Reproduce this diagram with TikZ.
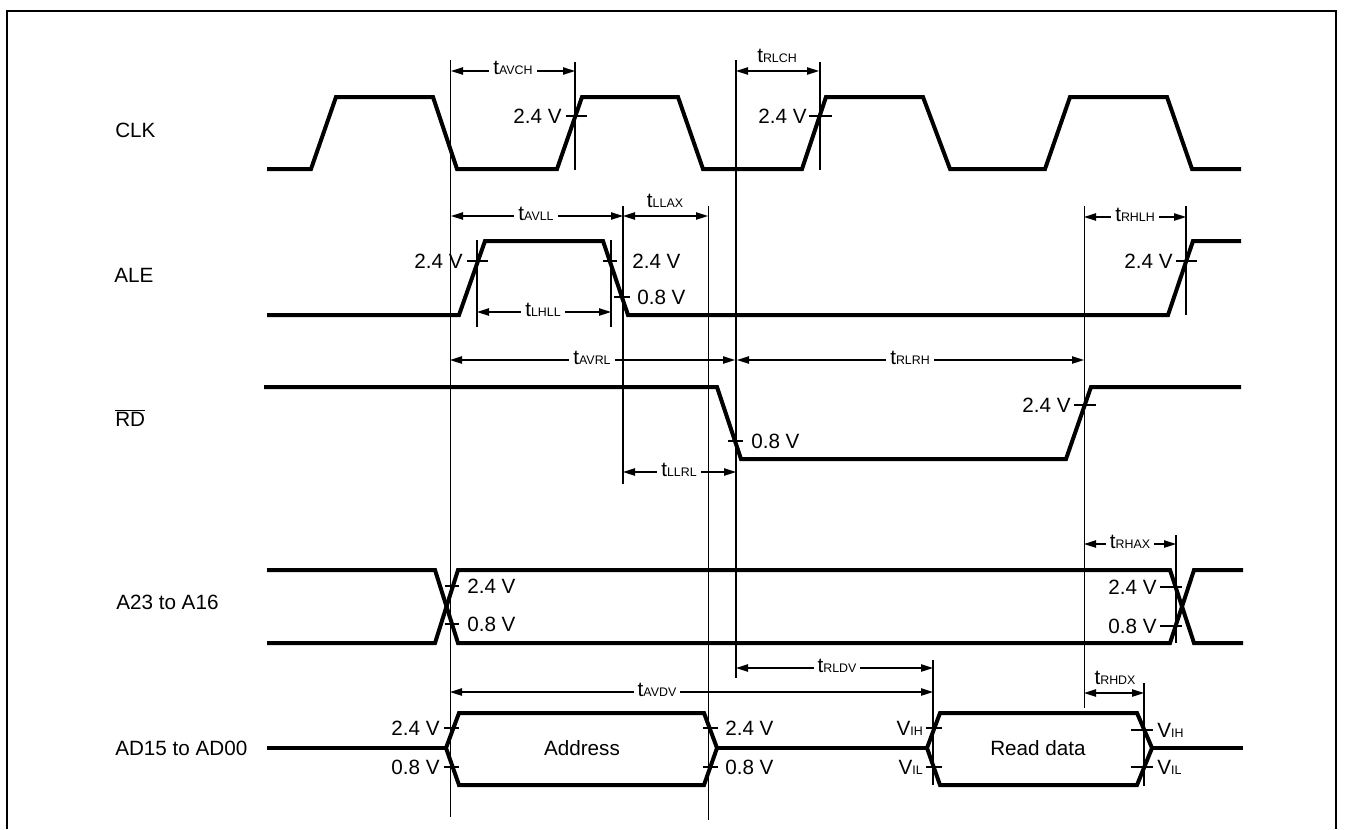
\documentclass[tikz,border=0pt]{standalone}
\usepackage{fontspec}
\setmainfont{Liberation Sans}
\usetikzlibrary{arrows.meta}
\newcommand\tsub[1]{t{\fontsize{9.3}{10}\selectfont #1}}
\newcommand\vsub[1]{V{\fontsize{9.3}{10}\selectfont #1}}
\begin{document}
\begin{tikzpicture}[x=0.75pt,y=-0.75pt,
  sig/.style={line width=3pt, line join=miter},
  thinref/.style={line width=0.6pt},
  medref/.style={line width=1.1pt},
  frameline/.style={line width=1.5pt},
  dimarrow/.style={line width=1.1pt, {Triangle[length=9pt,width=5.5pt]}-{Triangle[length=9pt,width=5.5pt]}},
  tickmark/.style={line width=1.2pt},
  lbl/.style={inner sep=0pt, font=\fontsize{15.5}{18}\selectfont},
  dlbl/.style={fill=white, inner xsep=3pt, inner ysep=1pt, font=\fontsize{15.5}{18}\selectfont},
  albl/.style={inner sep=0pt, font=\fontsize{15.5}{18}\selectfont},
]
\useasboundingbox (0,0) rectangle (1345,829);
% frame
\draw[frameline] (7,829) -- (7,11) -- (1336,11) -- (1336,829);

% signal names
\node[lbl, anchor=west] (nclk) at (115,130) {CLK};
\node[lbl, anchor=west] (nale) at (114,275) {ALE};
\node[lbl, anchor=west] (nrd) at (115,418) {$\overline{\hbox{RD}}$};
\node[lbl, anchor=west] (na23) at (116,602) {A23 to A16};
\node[lbl, anchor=west] (nad) at (115,748) {AD15 to AD00};

% reference lines
\draw[thinref] (450,60) -- (450,817);
\draw[thinref] (708,206) -- (708,820);
\draw[thinref] (1084,206) -- (1084,708);
\draw[medref] (575,62) -- (575,170);
\draw[medref] (736,60) -- (736,678);
\draw[medref] (820,62) -- (820,170);
\draw[medref] (477,240) -- (477,327);
\draw[medref] (611,240) -- (611,327);
\draw[medref] (623,206) -- (623,484);
\draw[medref] (1186,206) -- (1186,315);
\draw[medref] (1176,535) -- (1176,643);
\draw[medref] (933,660) -- (933,785);
\draw[medref] (1144,683) -- (1144,786);

% CLK
\draw[sig] (267,169) -- (311,169) -- (336,97) -- (433,97) -- (457,169) -- (557,169) -- (582,97) -- (678,97) -- (703,169) -- (802,169) -- (826,97) -- (923,97) -- (950,169) -- (1045,169) -- (1070,97) -- (1167,97) -- (1192,169) -- (1241,169);
% ALE
\draw[sig] (267,315) -- (459,315) -- (485,241) -- (603,241) -- (628,315) -- (1168,315) -- (1193,241) -- (1241,241);
% RD
\draw[sig] (264,387) -- (717,387) -- (741,459) -- (1066,459) -- (1091,387) -- (1241,387);
% A23 to A16
\draw[sig] (267,570) -- (435,570) -- (458,643) -- (1170,643) -- (1194,570) -- (1243,570);
\draw[sig] (267,643) -- (435,643) -- (458,570) -- (1170,570) -- (1194,643) -- (1243,643);
% AD15 to AD00
\draw[sig] (267,748) -- (446,748);
\draw[sig] (446,748) -- (459,713) -- (704,713) -- (717,748) -- (704,785) -- (459,785) -- cycle;
\draw[sig] (717,748) -- (927,748);
\draw[sig] (927,748) -- (940,713) -- (1137,713) -- (1152,748) -- (1137,785) -- (940,785) -- cycle;
\draw[sig] (1152,748) -- (1243,748);
\node[lbl] (addr) at (582,748) {Address};
\node[lbl] (rdata) at (1038,748) {Read data};

% ticks
\draw[tickmark] (566,116) -- (587,116);
\draw[tickmark] (809,116) -- (832,116);
\draw[tickmark] (467,261) -- (488,261);
\draw[tickmark] (603,261) -- (617,261);
\draw[tickmark] (614,297) -- (630,297);
\draw[tickmark] (1176,261) -- (1197,261);
\draw[tickmark] (728,441) -- (743,441);
\draw[tickmark] (1074,405) -- (1096,405);
\draw[tickmark] (445,586) -- (459,586);
\draw[tickmark] (445,624) -- (459,624);
\draw[tickmark] (1160,587) -- (1182,587);
\draw[tickmark] (1160,626) -- (1182,626);
\draw[tickmark] (444,728) -- (459,728);
\draw[tickmark] (444,767) -- (459,767);
\draw[tickmark] (703,728) -- (718,728);
\draw[tickmark] (703,767) -- (718,767);
\draw[tickmark] (926,728) -- (942,728);
\draw[tickmark] (926,767) -- (942,767);
\draw[tickmark] (1131,730) -- (1153,730);
\draw[tickmark] (1131,767) -- (1153,767);

% voltage labels
\node[albl, anchor=east] (v1) at (562,116) {2.4 V};
\node[albl, anchor=east] (v2) at (807,116) {2.4 V};
\node[albl, anchor=east] (v3) at (463,261) {2.4 V};
\node[albl, anchor=west] (v4) at (632,261) {2.4 V};
\node[albl, anchor=west] (v5) at (637,297) {0.8 V};
\node[albl, anchor=east] (v6) at (1173,261) {2.4 V};
\node[albl, anchor=west] (v7) at (751,441) {0.8 V};
\node[albl, anchor=east] (v8) at (1071,405) {2.4 V};
\node[albl, anchor=west] (v9) at (467,586) {2.4 V};
\node[albl, anchor=west] (v10) at (467,624) {0.8 V};
\node[albl, anchor=east] (v11) at (1157,587) {2.4 V};
\node[albl, anchor=east] (v12) at (1157,626) {0.8 V};
\node[albl, anchor=east] (v13) at (440,728) {2.4 V};
\node[albl, anchor=east] (v14) at (440,767) {0.8 V};
\node[albl, anchor=west] (v15) at (725,728) {2.4 V};
\node[albl, anchor=west] (v16) at (725,767) {0.8 V};
\node[albl, anchor=east] (v17) at (923,728) {\vsub{IH}};
\node[albl, anchor=east] (v18) at (923,767) {\vsub{IL}};
\node[albl, anchor=west] (v19) at (1157,730) {\vsub{IH}};
\node[albl, anchor=west] (v20) at (1157,767) {\vsub{IL}};

% timing dimensions
\draw[dimarrow] (451,71) -- (575,71);
\node[dlbl] (tavch) at (513,68) {\tsub{AVCH}};
\draw[dimarrow] (736,71) -- (819,71);
\node[albl] (trlch) at (777,56) {\tsub{RLCH}};
\draw[dimarrow] (451,216) -- (623,216);
\node[dlbl] (tavll) at (536,214) {\tsub{AVLL}};
\draw[dimarrow] (623,216) -- (708,216);
\node[albl] (tllax) at (665,201) {\tsub{LLAX}};
\draw[dimarrow] (1084,217) -- (1186,217);
\node[dlbl] (trhlh) at (1135,215) {\tsub{RHLH}};
\draw[dimarrow] (477,312) -- (611,312);
\node[dlbl] (tlhll) at (543,310) {\tsub{LHLL}};
\draw[dimarrow] (450,360) -- (735,360);
\node[dlbl] (tavrl) at (592,358) {\tsub{AVRL}};
\draw[dimarrow] (737,360) -- (1084,360);
\node[dlbl] (trlrh) at (910,358) {\tsub{RLRH}};
\draw[dimarrow] (623,472) -- (736,472);
\node[dlbl] (tllrl) at (679,470) {\tsub{LLRL}};
\draw[dimarrow] (1084,544) -- (1176,544);
\node[dlbl] (trhax) at (1130,542) {\tsub{RHAX}};
\draw[dimarrow] (736,668) -- (933,668);
\node[dlbl] (trldv) at (837,666) {\tsub{RLDV}};
\draw[dimarrow] (450,692) -- (933,692);
\node[dlbl] (tavdv) at (657,690) {\tsub{AVDV}};
\draw[dimarrow] (1084,693) -- (1144,693);
\node[albl] (trhdx) at (1115,678) {\tsub{RHDX}};
\end{tikzpicture}
\end{document}
